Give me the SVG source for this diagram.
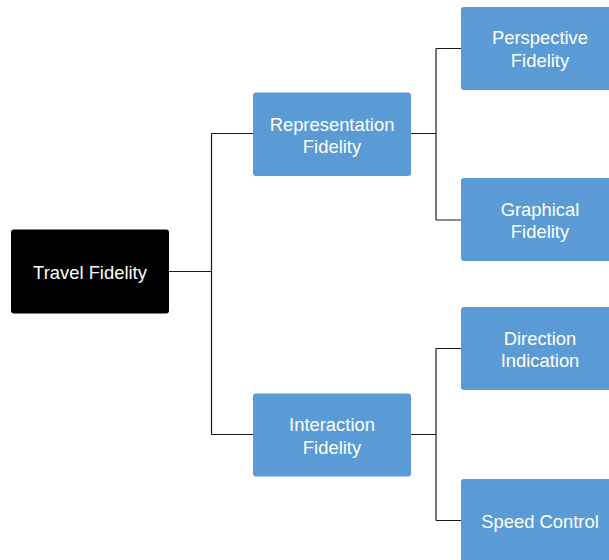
<svg xmlns="http://www.w3.org/2000/svg" width="609" height="560" viewBox="0 0 609 560">
<style>
.box{fill:#5B9BD5;}
.root{fill:#000000;}
.t{font-family:"Liberation Sans",Arial,sans-serif;font-size:18.4px;fill:#ffffff;text-anchor:middle;}
.c{fill:none;stroke:#1a1a1a;stroke-width:1.2;}
</style>
<rect width="609" height="560" fill="#ffffff"/>
<g id="connectors">
<path class="c" d="M169,271.5 H211.5 M211.5,133.5 V434.5 M211.5,133.5 H253 M211.5,434.5 H253"/>
<path class="c" d="M411,133.5 H436 M436,48.5 V220 M436,48.5 H461 M436,220 H461"/>
<path class="c" d="M411,434.5 H436 M436,348.5 V520.5 M436,348.5 H461 M436,520.5 H461"/>
</g>
<g id="travel">
<rect class="root" x="11" y="229.5" width="158" height="84" rx="3"/>
<text class="t" x="90" y="278.5">Travel Fidelity</text>
</g>
<g id="representation">
<rect class="box" x="253" y="92.5" width="158" height="83.5" rx="3"/>
<text class="t" x="332" y="130.5">Representation</text>
<text class="t" x="332" y="153">Fidelity</text>
</g>
<g id="interaction">
<rect class="box" x="253" y="393.5" width="158" height="83" rx="3"/>
<text class="t" x="332" y="431">Interaction</text>
<text class="t" x="332" y="453.5">Fidelity</text>
</g>
<g id="perspective">
<rect class="box" x="461" y="7" width="158" height="83" rx="3"/>
<text class="t" x="540" y="44">Perspective</text>
<text class="t" x="540" y="66.5">Fidelity</text>
</g>
<g id="graphical">
<rect class="box" x="461" y="178" width="158" height="83" rx="3"/>
<text class="t" x="540" y="215.5">Graphical</text>
<text class="t" x="540" y="238">Fidelity</text>
</g>
<g id="direction">
<rect class="box" x="461" y="307" width="158" height="83" rx="3"/>
<text class="t" x="540" y="344.5">Direction</text>
<text class="t" x="540" y="367">Indication</text>
</g>
<g id="speed">
<rect class="box" x="461" y="479" width="158" height="83" rx="3"/>
<text class="t" x="540" y="527.5">Speed Control</text>
</g>
</svg>
